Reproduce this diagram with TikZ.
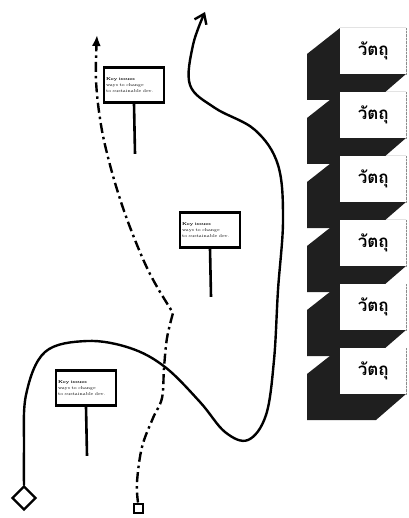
\documentclass[tikz,border=0pt]{standalone}
\usepackage{fontspec}
\newfontfamily\thaifont[Script=Thai]{Loma}
\usetikzlibrary{arrows.meta, shapes.geometric}

\tikzset{
  weg/.style={line width=2.4pt, line cap=round},
  pfad/.style={line width=2.4pt, dash pattern=on 10pt off 4pt on 2.5pt off 4pt},
  schild/.style={draw, line width=2.6pt, fill=white, minimum width=60pt, minimum height=35pt,
    inner sep=1.5pt, text width=56pt, align=left, font=\fontsize{4.3}{5.6}\selectfont},
  pfosten/.style={line width=2.6pt},
  front/.style={fill=white, minimum width=66pt, minimum height=46pt, inner sep=0pt,
    font=\thaifont\bfseries\fontsize{17}{20}\selectfont},
  schatten/.style={fill=black!88},
}

\begin{document}
\begin{tikzpicture}[x=1pt, y=-1pt]
  \useasboundingbox (0,0) rectangle (408,518);
  % Bloecke
  \foreach \i in {0,...,5} {
    \pgfmathsetmacro\oben{28+64*\i}
    \coordinate (k\i) at (340,\oben);
    \fill[schatten] (k\i) -- ++(-33,26) -- ++(0,46) -- ++(69,0) -- ++(30,-26) -- ++(0,-46) -- cycle;
    \node[front, anchor=north west] (b\i) at (k\i) {วัตถุ};
    \draw[black!45, densely dotted] (b\i.north east) -- (b\i.south east);
  }
  % Schilder
  \node[schild] (s1) at (134,85) {\textbf{Key issues}\\ways to change\\to sustainable dev.};
  \draw[pfosten] (s1.south) -- ++(1,50);
  \node[schild] (s2) at (210,230) {\textbf{Key issues}\\ways to change\\to sustainable dev.};
  \draw[pfosten] (s2.south) -- ++(1,48);
  \node[schild] (s3) at (86,388) {\textbf{Key issues}\\ways to change\\to sustainable dev.};
  \draw[pfosten] (s3.south) -- ++(1,49);
  % Start und Ziel
  \node[draw, diamond, line width=2.4pt, minimum size=24pt, inner sep=0pt] (start) at (24,498) {};
  \node[draw, line width=2pt, minimum size=9pt, inner sep=0pt] (ziel) at (138,508) {};
  % Wege
  \draw[weg, -{Straight Barb[length=9pt, width=13pt]}] plot[smooth, tension=0.6] coordinates {
    (start.north) (24,450) (26,395) (45,352) (87,341) (130,348) (165,367) (200,402)
    (225,432) (248,440) (266,415) (274,360) (278,290) (283,220) (278,165) (255,130)
    (215,108) (190,85) (193,45) (205,12)};
  \draw[pfad, -{Latex[length=11pt, width=9pt]}]
    plot[smooth, tension=0.6] coordinates {(ziel.north) (137,482) (142,447) (153,418)
      (162,398) (164,368) (167,338) (173,313)}
    -- plot[smooth, tension=0.6] coordinates {(160,292) (148,270) (135,240) (122,205)
      (110,165) (101,125) (96,80) (97,35)};
\end{tikzpicture}
\end{document}
